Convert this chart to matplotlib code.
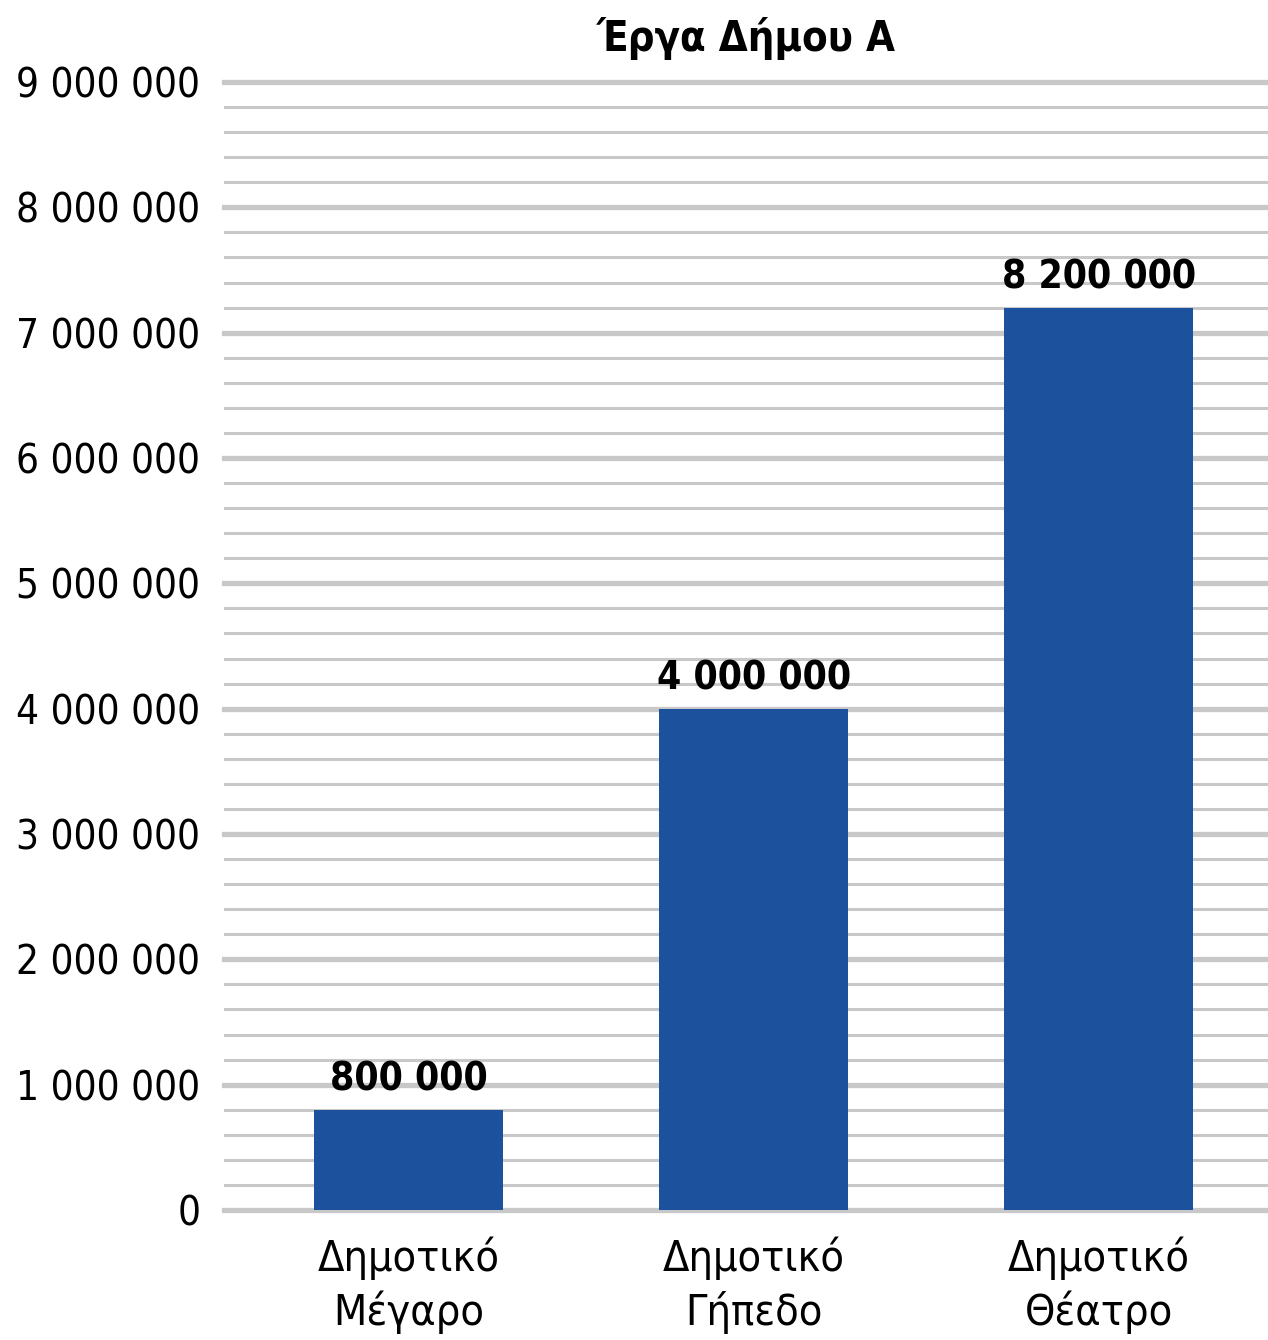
import matplotlib
matplotlib.use("Agg")
import matplotlib.pyplot as plt
from matplotlib.ticker import MultipleLocator, FuncFormatter

# ----------------------- Data ---------------------------
categories = ["Δημοτικό\nΜέγαρο", "Δημοτικό\nΓήπεδο", "Δημοτικό\nΘέατρο"]
bar_heights = [800000, 4000000, 7200000]          # drawn heights
bar_labels = ["800 000", "4 000 000", "8 200 000"]  # printed labels
title = "Έργα Δήμου Α"

plt.rcParams['font.family'] = ['DejaVu Sans']
plt.rcParams['font.stretch'] = 'condensed'

# ----------------------- Plot ---------------------------
fig = plt.figure(figsize=(12.68, 13.40), dpi=100)
ax = fig.add_axes([224 / 1268, 1 - 1210 / 1340, 1044 / 1268, (1210 - 82) / 1340])

x = range(len(categories))
ax.bar(x, bar_heights, width=0.548, color="#1B519D", zorder=3)

for xi, h, lab in zip(x, bar_heights, bar_labels):
    ax.annotate(lab, (xi, h), xytext=(0, 8), textcoords="offset points",
                ha="center", va="bottom", fontsize=28, fontweight="bold", zorder=4)

ax.set_xlim(-0.535, 2.491)
ax.set_ylim(0, 9000000)
ax.yaxis.set_major_locator(MultipleLocator(1000000))
ax.yaxis.set_minor_locator(MultipleLocator(200000))
ax.yaxis.set_major_formatter(FuncFormatter(lambda v, p: f"{int(v):,}".replace(",", " ")))

ax.set_xticks(list(x))
ax.set_xticklabels(categories, fontsize=31, linespacing=1.32)
ax.tick_params(axis="y", labelsize=29, length=0, pad=17)
ax.tick_params(axis="y", which="minor", length=0)
ax.tick_params(axis="x", length=0, pad=19)

ax.grid(axis="y", which="major", color="#C8C8C8", linewidth=3.8, zorder=0)
ax.grid(axis="y", which="minor", color="#C8C8C8", linewidth=2.2, zorder=0)
for ln in ax.yaxis.get_gridlines() + ax.yaxis.get_minorticklines():
    ln.set_clip_on(False)
ax.set_axisbelow(True)
for s in ax.spines.values():
    s.set_visible(False)

ax.set_title(title, fontsize=30, fontweight="bold", pad=22)

plt.savefig("out.png", dpi=100)
